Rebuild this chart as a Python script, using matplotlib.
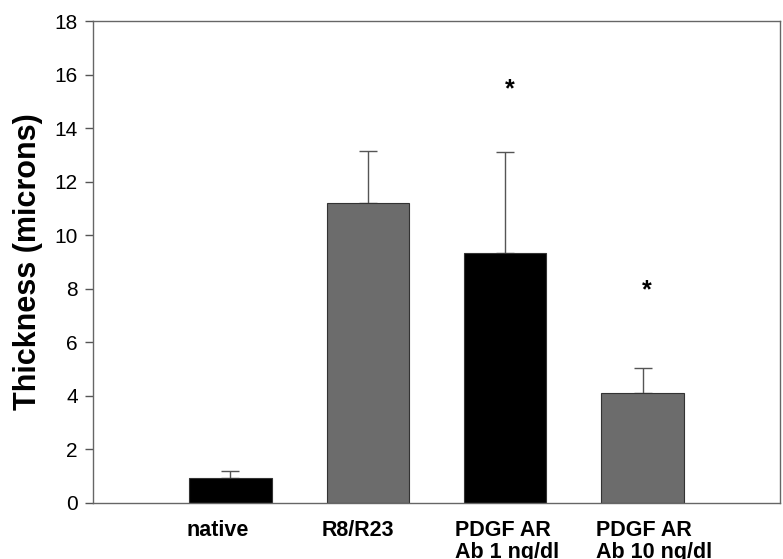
import numpy as np
import matplotlib.pyplot as plt
import matplotlib.transforms as mtransforms

plt.rcParams['font.family'] = ['Liberation Sans', 'DejaVu Sans']

groups = ['native', 'R8/R23', 'PDGF AR\nAb 1 ng/dl', 'PDGF AR\nAb 10 ng/dl']
thickness = [0.93, 11.22, 9.34, 4.09]
sem = [0.25, 1.93, 3.76, 0.96]
bar_colors = ['#000000', '#6c6c6c', '#000000', '#6c6c6c']
star_y = [None, None, 15.45, 7.95]

fig = plt.figure(figsize=(7.83, 5.59), dpi=100)
ax = fig.add_axes([0.1188, 0.1002, 0.8774, 0.8622])

x = np.arange(len(groups))
ax.bar(x, thickness, width=0.6, color=bar_colors, edgecolor='#333333', linewidth=0.8, zorder=2)
ax.errorbar(x, thickness, yerr=[np.zeros(len(sem)), sem], fmt='none',
            ecolor='#555555', elinewidth=1.0, capsize=6.5, capthick=1.0, zorder=1)

for xi, sy in zip(x, star_y):
    if sy is not None:
        ax.text(xi + 0.03, sy, '*', ha='center', va='center', fontsize=18, fontweight='bold')

ax.set_xlim(-1, 4)
ax.set_ylim(0, 18)
ax.set_yticks(np.arange(0, 19, 2))
ax.tick_params(axis='y', labelsize=15, length=6, width=1, color='#555555', direction='out', pad=5)
ax.set_xticks(x)
ax.set_xticklabels(groups, fontsize=15.5, fontweight='bold', multialignment='left',
                   linespacing=1.1)
ax.tick_params(axis='x', length=0, pad=12)
# labels in the original sit a bit wider apart than the bars
for lab, dx in zip(ax.get_xticklabels(), [-9.4, -7.2, 1.4, 7.9]):
    lab.set_transform(lab.get_transform() +
                      mtransforms.ScaledTranslation(dx / 72, 0, fig.dpi_scale_trans))
ax.set_ylabel('Thickness (microns)', fontsize=22, fontweight='bold', labelpad=8)

for sp in ax.spines.values():
    sp.set_color('#666666')
    sp.set_linewidth(1.0)

fig.savefig('out.png', dpi=100)
